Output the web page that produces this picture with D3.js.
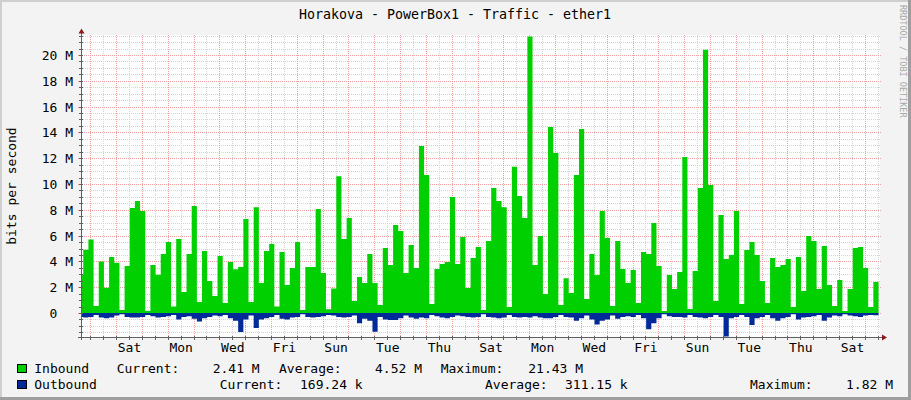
<!DOCTYPE html>
<html><head><meta charset="utf-8">
<script src="https://cdn.jsdelivr.net/npm/d3@7/dist/d3.min.js"></script>
<style>
body{margin:0;background:#fff}
svg{display:block}
text{font-family:"DejaVu Sans Mono",monospace;white-space:pre}
</style>
</head><body>
<svg id="chart" width="911" height="400"></svg>
<script>
// ---- data (values in Mbit/s, bins of 0.2 day, time in days from first Friday 00:00) ----
const inbound = [
 2.95,4.9,5.7,0.55,4.0,1.96,4.35,3.9,0.23,3.64,
 8.14,8.68,7.9,0.15,3.72,2.97,4.57,5.5,0.5,5.74,
 1.63,4.57,8.3,0.85,4.8,2.48,1.32,4.42,0.78,3.95,
 3.4,3.56,7.29,0.85,8.2,2.33,4.8,5.35,0.5,4.73,
 2.17,3.49,5.5,0.23,3.56,3.56,8.06,3.1,0.3,1.9,
 10.6,5.74,7.36,0.93,2.79,2.33,4.57,2.33,0.62,5.04,
 3.72,6.82,6.36,3.1,5.27,3.49,12.95,10.7,0.7,3.41,
 3.8,3.95,9.0,3.8,5.89,1.94,4.26,5.12,0.23,5.58,
 9.69,8.68,8.2,0.47,11.34,9.07,7.36,21.43,3.72,5.97,
 1.47,14.42,12.4,0.62,2.7,1.55,10.7,14.26,1.09,4.57,
 2.95,7.9,5.81,0.54,5.58,3.41,2.33,3.33,0.78,4.73,
 4.57,6.98,3.64,0.15,2.95,1.86,3.18,12.1,0.31,3.26,
 9.69,20.4,9.92,0.93,7.6,4.19,4.5,7.9,0.7,4.88,
 5.5,4.5,2.48,0.78,4.26,3.56,3.72,4.19,0.47,4.34,
 1.7,5.97,5.58,1.86,5.19,2.17,0.54,2.56,0.15,1.86,
 5.04,5.12,3.49,0.47,2.41
];
const outbound = [
 0.3,0.35,0.3,0.15,0.35,0.4,0.35,0.2,0.1,0.3,
 0.35,0.35,0.3,0.15,0.25,0.35,0.3,0.25,0.15,0.5,
 0.3,0.25,0.45,0.65,0.4,0.3,0.2,0.25,0.15,0.4,
 0.6,1.47,0.5,0.2,1.16,0.5,0.4,0.3,0.15,0.45,
 0.5,0.35,0.3,0.1,0.3,0.35,0.3,0.25,0.15,0.2,
 0.3,0.35,0.3,0.2,0.8,0.45,0.6,1.45,0.3,0.5,
 0.55,0.55,0.4,0.2,0.35,0.45,0.35,0.4,0.15,0.25,
 0.35,0.4,0.3,0.2,0.25,0.3,0.35,0.3,0.1,0.3,
 0.35,0.4,0.35,0.15,0.3,0.35,0.3,0.35,0.25,0.35,
 0.4,0.4,0.3,0.15,0.3,0.35,0.6,0.4,0.2,0.5,
 0.9,0.6,0.5,0.2,0.45,0.3,0.25,0.3,0.15,0.4,
 1.25,0.8,0.4,0.1,0.25,0.3,0.3,0.35,0.15,0.3,
 0.35,0.4,0.3,0.15,0.3,1.82,0.4,0.3,0.15,0.3,
 0.93,0.4,0.3,0.15,0.4,0.6,0.4,0.3,0.1,0.5,
 0.35,0.3,0.25,0.15,0.6,0.35,0.2,0.25,0.1,0.2,
 0.25,0.3,0.2,0.15,0.17
];
const binStart = -0.4725;   // day offset of first bin
const binStep = 0.2;        // days per bin
const timeDomain = [-0.36, 30.507];
const valueDomain = [-1.86, 21.55];
const dayLabels = ["Sat","Mon","Wed","Fri","Sun","Tue","Thu","Sat","Mon","Wed","Fri","Sun","Tue","Thu","Sat"];
const yTickValues = [0,2,4,6,8,10,12,14,16,18,20];
const yTickLabels = ["0  ","2 M","4 M","6 M","8 M","10 M","12 M","14 M","16 M","18 M","20 M"];
const title = "Horakova - PowerBox1 - Traffic - ether1";
const legendIn = ["Inbound","Current:","2.41 M","Average:","4.52 M","Maximum:","21.43 M"];
const legendOut = ["Outbound","Current:","169.24 k","Average:","311.15 k","Maximum:","1.82 M"];

// ---- drawing ----
const W = 911, H = 400;
const L = 81, R = 878, T = 35, B = 337;
const svg = d3.select("#chart");
const GREEN = "#00cf00", BLUE = "#002a97";

// frame
svg.append("rect").attr("x",0).attr("y",0).attr("width",W).attr("height",H).attr("fill","#f3f3f3");
svg.append("path").attr("d",`M0,0H${W}V2H2V${H}H0Z`).attr("fill","#cfcfcf");
svg.append("path").attr("d",`M${W},${H}H0V${H-3}H${W-3}V0H${W}Z`).attr("fill","#9e9e9e");

// canvas
svg.append("rect").attr("x",L).attr("y",T).attr("width",R-L+2).attr("height",B-T).attr("fill","#fff");

const x = d3.scaleLinear().domain(timeDomain).range([L, R]);
const y = d3.scaleLinear().domain(valueDomain).range([B, T]);
const px = v => Math.round(v) + 0.5;

const grid = svg.append("g");
const hMinor = d3.range(-1.5, 21.6, 0.5).filter(v => Math.abs(v/2 - Math.round(v/2)) > 1e-6 || v < 0);
grid.selectAll(".hmin").data(hMinor).join("line")
  .attr("x1", L-2).attr("x2", R+3).attr("y1", d=>px(y(d))).attr("y2", d=>px(y(d)))
  .attr("stroke","#d4d4d4").attr("stroke-dasharray","1,1");
const vMinor = d3.range(-0.5, 30.6, 1).filter(t => t >= timeDomain[0] && t <= timeDomain[1]);
grid.selectAll(".vmin").data(vMinor).join("line")
  .attr("y1", T).attr("y2", B+2).attr("x1", d=>px(x(d))).attr("x2", d=>px(x(d)))
  .attr("stroke","#d4d4d4").attr("stroke-dasharray","1,1");
grid.selectAll(".hmaj").data(yTickValues).join("line")
  .attr("x1", L-3).attr("x2", R+3).attr("y1", d=>px(y(d))).attr("y2", d=>px(y(d)))
  .attr("stroke","#f0a0a0").attr("stroke-dasharray","1,1");
const vMajor = d3.range(0, 30.6, 1).filter(t => t >= timeDomain[0] && t <= timeDomain[1]);
grid.selectAll(".vmaj").data(vMajor).join("line")
  .attr("y1", T).attr("y2", B+3).attr("x1", d=>px(x(d))).attr("x2", d=>px(x(d)))
  .attr("stroke","#f0a0a0").attr("stroke-dasharray","1,1");

// data areas
const clip = svg.append("clipPath").attr("id","plotclip");
clip.append("rect").attr("x",L+1).attr("y",T).attr("width",R-L).attr("height",B-T);
const pts = arr => {
  const p = arr.map((v,i)=>({t: binStart + i*binStep, v}));
  p.push({t: binStart + arr.length*binStep, v: arr[arr.length-1]});
  return p;
};
const area = d3.area().x(d=>x(d.t)).y0(y(0)).y1(d=>y(d.v)).curve(d3.curveStepAfter);
const areaNeg = d3.area().x(d=>x(d.t)).y0(y(0)).y1(d=>y(-d.v)).curve(d3.curveStepAfter);
const g = svg.append("g").attr("clip-path","url(#plotclip)");
g.append("path").attr("d", area(pts(inbound))).attr("fill", GREEN);
g.append("path").attr("d", areaNeg(pts(outbound))).attr("fill", BLUE);

// axes
const AX = "#606060", ARW = "#8b1a1a";
svg.append("line").attr("x1",L+0.5).attr("x2",L+0.5).attr("y1",B+3).attr("y2",T-4).attr("stroke",AX);
svg.append("line").attr("x1",L-3).attr("x2",R+5).attr("y1",B+0.5).attr("y2",B+0.5).attr("stroke",AX);
svg.append("path").attr("d",`M${L-2.5},${T-1.5}L${L+3.5},${T-1.5}L${L+0.5},${T-6.5}Z`).attr("fill",ARW);
svg.append("path").attr("d",`M${R+4},${B-2.5}L${R+4},${B+3.5}L${R+9},${B+0.5}Z`).attr("fill",ARW);
svg.selectAll(".yt").data(hMinor.concat(yTickValues)).join("line")
  .attr("x1",L-2).attr("x2",L+2).attr("y1",d=>px(y(d))).attr("y2",d=>px(y(d))).attr("stroke",AX);
svg.selectAll(".xt").data(vMinor.concat(vMajor)).join("line")
  .attr("y1",B-1).attr("y2",B+3).attr("x1",d=>px(x(d))).attr("x2",d=>px(x(d))).attr("stroke",AX);

// y labels
svg.selectAll(".yl").data(yTickValues).join("text")
  .attr("x", 73).attr("y", d=>y(d)+5).attr("text-anchor","end")
  .attr("font-size",13).attr("fill","#000").text((d,i)=>yTickLabels[i]);

// x labels via d3 axis
const xAxis = d3.axisBottom(x).tickValues(dayLabels.map((_,i)=>1.5+2*i)).tickSize(0)
  .tickFormat((d,i)=>dayLabels[i]);
const xa = svg.append("g").attr("transform",`translate(0,${B})`).call(xAxis);
xa.select(".domain").remove();
xa.selectAll("text").attr("font-size",13).attr("font-family","DejaVu Sans Mono").attr("fill","#000")
  .attr("dy",null).attr("y",14.5);

// title
svg.append("text").attr("x",455).attr("y",19).attr("text-anchor","middle")
  .attr("font-size",13.3).attr("fill","#000").text(title);
// y axis title
svg.append("text").attr("transform","translate(15.5,186) rotate(-90)").attr("text-anchor","middle")
  .attr("font-size",13).attr("fill","#000").text("bits per second");
// watermark
svg.append("text").attr("transform","translate(899.5,5) rotate(90)").attr("text-anchor","start")
  .attr("font-size",8.5).attr("fill","#a8a8a8").text("RRDTOOL / TOBI OETIKER");

// legend
const leg1X = [34.3,116.7,212.7,279,375,440.7,528.3];
const leg2X = [34.3,219.7,300,485,565,750,846];
svg.append("rect").attr("x",17.5).attr("y",364.5).attr("width",9).attr("height",8).attr("fill",GREEN).attr("stroke","#000");
svg.append("rect").attr("x",17.5).attr("y",380.5).attr("width",9).attr("height",8).attr("fill",BLUE).attr("stroke","#000");
svg.selectAll(".l1").data(legendIn).join("text").attr("x",(d,i)=>leg1X[i]).attr("y",373)
  .attr("font-size",13).attr("fill","#000").text(d=>d);
svg.selectAll(".l2").data(legendOut).join("text").attr("x",(d,i)=>leg2X[i]).attr("y",389)
  .attr("font-size",13).attr("fill","#000").text(d=>d);
</script>
</body></html>
